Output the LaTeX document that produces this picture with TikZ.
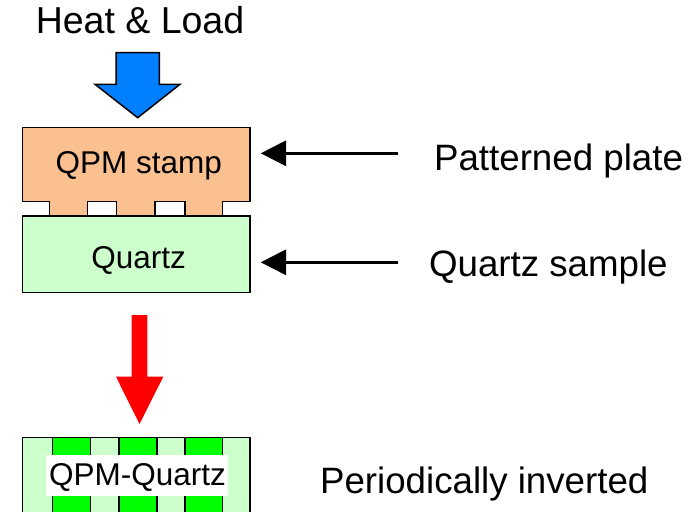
\documentclass[tikz,border=0pt]{standalone}
\usepackage{fontspec}
\setmainfont{Liberation Sans}
\usetikzlibrary{positioning}
\usetikzlibrary{arrows.meta}
\definecolor{stamp-orange}{RGB}{250, 192, 144}
\definecolor{quartz-green}{RGB}{204, 255, 204}
\definecolor{domain-green}{RGB}{0, 255, 0}
\definecolor{load-blue}{RGB}{0, 128, 255}
\definecolor{flow-red}{RGB}{255, 0, 0}
\tikzset{
  inlabel/.style={anchor=base, inner sep=0pt, font=\fontsize{31.5}{31.5}\selectfont},
  outlabel/.style={anchor=base west, inner sep=0pt, font=\fontsize{36.7}{36.7}\selectfont},
  pointer/.style={line width=3pt, -{Triangle[length=25.3pt, width=25pt]}}
}

\begin{document}
\begin{tikzpicture}[x=1pt, y=-1pt, line width=1.5pt]
\useasboundingbox (0,0) rectangle (698,511);
\clip (0,0) rectangle (698,511);
% heat and load
\node[anchor=base, inner sep=0pt, font=\fontsize{37.5}{37.5}\selectfont] (heat) at (140,34) {Heat \& Load};
\filldraw[fill=load-blue, draw=black] (116,52.7) -- (159.3,52.7) -- (159.3,84.3) -- (180,84.3) -- (137.7,117.7) -- (95,84.3) -- (116,84.3) -- cycle;
% stamp with teeth
\filldraw[fill=stamp-orange, draw=black] (22.7,127.3) -- (250,127.3) -- (250,201.7) -- (222.7,201.7) -- (222.7,215.7) -- (185,215.7) -- (185,201.7) -- (155,201.7) -- (155,215.7) -- (116.7,215.7) -- (116.7,201.7) -- (87.7,201.7) -- (87.7,215.7) -- (49.3,215.7) -- (49.3,201.7) -- (22.7,201.7) -- cycle;
\node[inlabel] (stamp) at (138.8,173.3) {QPM stamp};
% quartz
\filldraw[fill=quartz-green, draw=black] (22.7,216) rectangle (250,292.3);
\node[inlabel] (quartz) at (138.7,268.3) {Quartz};
% process arrow
\fill[flow-red] (131.7,315) -- (147.3,315) -- (147.3,376.7) -- (163.3,376.7) -- (139.5,424) -- (116,376.7) -- (131.7,376.7) -- cycle;
% inverted quartz
\filldraw[fill=quartz-green, draw=black] (22.7,437.7) rectangle (250,530);
\foreach \xa/\xb in {52.7/90.7, 119/157, 185/222.7}
  \filldraw[fill=domain-green, draw=black] (\xa,437.7) rectangle (\xb,530);
\fill[white] (46,455) rectangle (227.7,495.7);
\node[inlabel] (qpmq) at (137.5,485) {QPM-Quartz};
% labels on the right
\node[outlabel] (plate) at (433.3,170) {Patterned plate};
\node[outlabel] (sample) at (428.3,276.7) {Quartz sample};
\node[outlabel] (inverted) at (319.3,493) {Periodically inverted};
\coordinate (plate-tail) at (398.3,153.3);
\coordinate (plate-tip) at (260.7,153.3);
\coordinate (sample-tail) at (398.3,262.3);
\coordinate (sample-tip) at (260.7,262.3);
\draw[pointer] (plate-tail) -- (plate-tip);
\draw[pointer] (sample-tail) -- (sample-tip);
\end{tikzpicture}
\end{document}
